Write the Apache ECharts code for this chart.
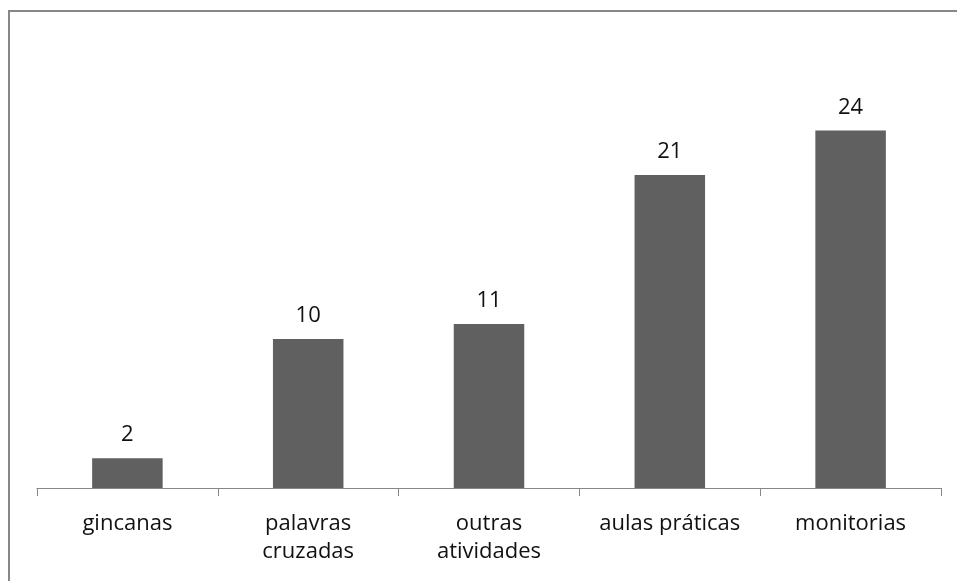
<!DOCTYPE html>
<html>
<head>
<meta charset="utf-8">
<script src="https://cdn.jsdelivr.net/npm/echarts@6/dist/echarts.min.js"></script>
<style>
  html, body { margin: 0; padding: 0; background: #fff; }
  #chart { width: 957px; height: 581px; }
</style>
</head>
<body>
<div id="chart"></div>
<script>
const categories = ['gincanas', 'palavras\ncruzadas', 'outras\natividades', 'aulas práticas', 'monitorias']
const values = [2, 10, 11, 21, 24]

const myChart = echarts.init(document.getElementById('chart'))
myChart.setOption({
  animation: false,
  textStyle: { fontFamily: 'Open Sans' },
  graphic: [
    {
      type: 'rect',
      shape: { x: 9, y: 11, width: 2000, height: 2000 },
      style: { fill: 'none', stroke: '#878787', lineWidth: 2 }
    }
  ],
  grid: { left: 37, right: 16, top: 41, bottom: 93 },
  xAxis: {
    type: 'category',
    data: categories,
    axisLine: { lineStyle: { color: '#878787', width: 1 } },
    axisTick: { show: true, length: 8, lineStyle: { color: '#878787' } },
    axisLabel: {
      color: '#111',
      fontSize: 22,
      lineHeight: 28,
      margin: 22,
      interval: 0
    }
  },
  yAxis: {
    type: 'value',
    min: 0,
    max: 30,
    show: false
  },
  series: [
    {
      type: 'bar',
      data: values,
      barWidth: '39%',
      itemStyle: { color: '#606060' },
      label: {
        show: true,
        position: 'top',
        distance: 12,
        color: '#111',
        fontSize: 22
      }
    }
  ]
})
</script>
</body>
</html>
